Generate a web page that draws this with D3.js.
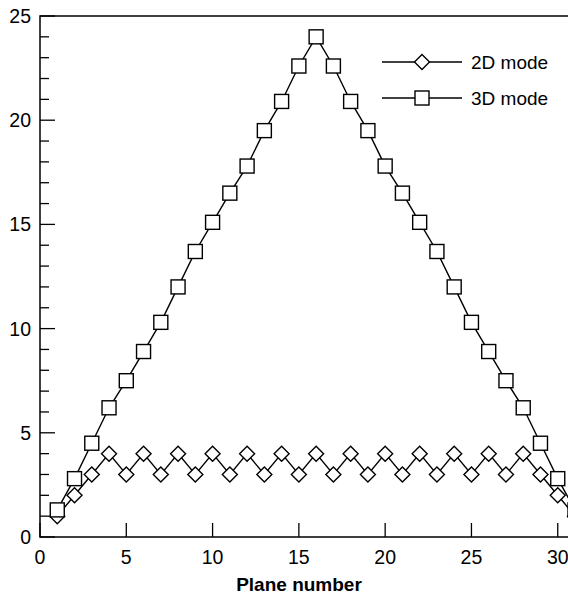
<!DOCTYPE html>
<head>
  <meta charset="utf-8">
  <script src="https://cdnjs.cloudflare.com/ajax/libs/d3/7.8.5/d3.min.js"></script>
  <style>
    body { margin:0; background:#fff; }
    svg { display:block; font-family:"Liberation Sans", Arial, sans-serif; }
  </style>
</head>
<body>
  <script>
    // plane numbers and values per mode
    var planes = d3.range(1, 32);
    var mode2D = [1, 2, 3, 4, 3, 4, 3, 4, 3, 4, 3, 4, 3, 4, 3, 4,
                  3, 4, 3, 4, 3, 4, 3, 4, 3, 4, 3, 4, 3, 2, 1];
    var mode3D = [1.3, 2.8, 4.5, 6.2, 7.5, 8.9, 10.3, 12, 13.7, 15.1, 16.5, 17.8, 19.5, 20.9, 22.6, 24,
                  22.6, 20.9, 19.5, 17.8, 16.5, 15.1, 13.7, 12, 10.3, 8.9, 7.5, 6.2, 4.5, 2.8, 1.3];
    var xTicks = [0, 5, 10, 15, 20, 25, 30];
    var yTicks = [0, 5, 10, 15, 20, 25];

    var width = 568, height = 596;
    var svg = d3.select("body").append("svg")
      .attr("width", width).attr("height", height);

    var x = d3.scaleLinear().domain([0, 31]).range([40, 575]);
    var y = d3.scaleLinear().domain([0, 25]).range([537, 16]);

    // frame
    svg.append("rect")
      .attr("x", x(0)).attr("y", y(25))
      .attr("width", x(31) - x(0)).attr("height", y(0) - y(25))
      .attr("fill", "none").attr("stroke", "#000").attr("stroke-width", 1.5);

    // y axis, major + minor ticks pointing inward
    var yAxis = svg.append("g").attr("transform", "translate(" + x(0) + ",0)");
    yAxis.selectAll(".minor").data(d3.range(0, 26)).enter().append("line")
      .attr("x1", 0).attr("x2", function (d) { return d % 5 == 0 ? 15 : 9; })
      .attr("y1", function (d) { return y(d); }).attr("y2", function (d) { return y(d); })
      .attr("stroke", "#000").attr("stroke-width", 1.3);
    yAxis.selectAll("text").data(yTicks).enter().append("text")
      .attr("x", -9).attr("y", function (d) { return y(d); })
      .attr("dy", "0.36em").attr("text-anchor", "end")
      .attr("font-size", 19.5).text(function (d) { return d; });

    // x axis
    var xAxis = svg.append("g").attr("transform", "translate(0," + y(0) + ")");
    xAxis.selectAll("line").data(xTicks).enter().append("line")
      .attr("x1", function (d) { return x(d); }).attr("x2", function (d) { return x(d); })
      .attr("y1", 0).attr("y2", -14)
      .attr("stroke", "#000").attr("stroke-width", 1.3);
    xAxis.selectAll("text").data(xTicks).enter().append("text")
      .attr("x", function (d) { return x(d); }).attr("y", 27)
      .attr("text-anchor", "middle").attr("font-size", 19.5)
      .text(function (d) { return d; });

    svg.append("text")
      .attr("x", 299).attr("y", 591)
      .attr("text-anchor", "middle").attr("font-size", 19).attr("font-weight", "bold")
      .text("Plane number");

    var clip = svg.append("clipPath").attr("id", "clip")
      .append("rect").attr("x", x(0)).attr("y", 0).attr("width", width).attr("height", y(0) + 10);

    var line = d3.line()
      .x(function (d, i) { return x(planes[i]); })
      .y(function (d) { return y(d); });

    var plot = svg.append("g").attr("clip-path", "url(#clip)");

    function diamond(g, cx, cy) {
      g.append("path")
        .attr("d", "M" + cx + "," + (cy - 7.5) + "L" + (cx + 7.5) + "," + cy +
                   "L" + cx + "," + (cy + 7.5) + "L" + (cx - 7.5) + "," + cy + "Z")
        .attr("fill", "#fff").attr("stroke", "#000").attr("stroke-width", 1.4);
    }
    function square(g, cx, cy) {
      g.append("rect")
        .attr("x", cx - 7).attr("y", cy - 7).attr("width", 14).attr("height", 14)
        .attr("fill", "#fff").attr("stroke", "#000").attr("stroke-width", 1.4);
    }

    plot.append("path").attr("d", line(mode2D))
      .attr("fill", "none").attr("stroke", "#000").attr("stroke-width", 1.4);
    plot.append("path").attr("d", line(mode3D))
      .attr("fill", "none").attr("stroke", "#000").attr("stroke-width", 1.4);

    mode2D.forEach(function (d, i) { diamond(plot, x(planes[i]), y(d)); });
    mode3D.forEach(function (d, i) { square(plot, x(planes[i]), y(d)); });

    // legend
    var legend = [
      { label: "2D mode", marker: diamond, yPos: 62 },
      { label: "3D mode", marker: square, yPos: 98 }
    ];
    legend.forEach(function (l) {
      var g = svg.append("g");
      g.append("line").attr("x1", 382).attr("x2", 462)
        .attr("y1", l.yPos).attr("y2", l.yPos)
        .attr("stroke", "#000").attr("stroke-width", 1.4);
      l.marker(g, 422, l.yPos);
      g.append("text").attr("x", 471).attr("y", l.yPos).attr("dy", "0.36em")
        .attr("font-size", 19).text(l.label);
    });
  </script>
</body>
</html>
